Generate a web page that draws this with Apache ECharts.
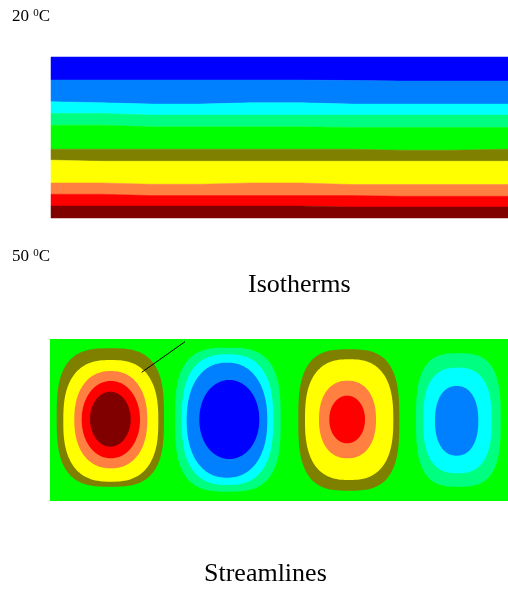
<!DOCTYPE html>
<html>
<head>
<meta charset="utf-8">
<script src="https://cdn.jsdelivr.net/npm/echarts@6/dist/echarts.min.js"></script>
<style>
  html, body { margin: 0; padding: 0; background: #fff; }
  #chart { width: 508px; height: 590px; }
</style>
</head>
<body>
<div id="chart"></div>
<script>
// Ten-step contour palette, from the lowest level to the highest
const palette = ['#0000ff', '#0080ff', '#00ffff', '#00ff80', '#00ff00',
                 '#808000', '#ffff00', '#ff8040', '#ff0000', '#800000'];

// Isotherms: positions across the layer and the depth of every band boundary there
const isoX = [0, 50, 100, 150, 200, 250, 300, 350, 400, 457];
const isoBoundaries = [
  [0, 0, 0, 0, 0, 0, 0, 0, 0, 0],
  [23, 23, 23, 23, 23, 23, 23.5, 24, 24, 24],
  [44.7, 45.7, 47, 47, 45.7, 45.7, 47, 47, 47, 47],
  [56.3, 56.3, 58, 58, 58, 58, 58, 58, 58, 58],
  [68, 68, 69.7, 69.7, 69.7, 69.7, 70.3, 70.3, 70.3, 70.3],
  [92, 92, 92, 92, 92, 92, 92, 93, 93, 92],
  [103, 104, 104, 104, 104, 104, 104, 104, 104, 104],
  [125.7, 125.7, 127, 127, 125.7, 125.7, 127.3, 127.3, 127.3, 127.3],
  [137, 137, 138.3, 138.3, 138.3, 138.3, 138.3, 139, 139, 139],
  [148.7, 148.7, 148.7, 148.7, 148.7, 148.7, 149.7, 149.7, 149.7, 149.7],
  [160.7, 160.7, 160.7, 160.7, 160.7, 160.7, 160.7, 160.7, 160.7, 160.7]
];
const isoDepth = 160.7;
const isoWidth = 457;

// Streamlines: contours of each convection cell, outermost first
// [palette level, x0, x1, y0, y1]
const cellA = [[5, 6.7, 114, 9.3, 147.7], [6, 13.3, 108.3, 21, 142.7], [7, 24.3, 97.3, 32, 129.3],
               [8, 31.7, 90, 42, 119.3], [9, 40, 80.7, 52.7, 107.7]];
const cellB = [[3, 125, 230.7, 8.7, 152.7], [2, 131.7, 223.3, 15.3, 146], [1, 136.7, 217.3, 23.7, 138.7],
               [0, 149.3, 209.3, 41, 120]];
const cellC = [[5, 248.3, 349.3, 10.3, 151.7], [6, 255, 343.3, 20.3, 141], [7, 269, 326, 41.7, 119.3],
               [8, 279.3, 315, 56.7, 104.3]];
const cellD = [[3, 366, 450.7, 14.3, 147.7], [2, 373.3, 441.7, 28.7, 134.3], [1, 385, 428.3, 47, 116.7]];
const streamWidth = 458;
const streamDepth = 162;
const zeroLevel = 4;

// pointer drawn onto the first cell
const pointerLine = [[135, 2.7], [91.7, 33.3]];

const titles = ['Isotherms', 'Streamlines'];
const tempTop = '20';
const tempBottom = '50';

// --- isotherm bands: polygon between two neighbouring boundaries ---
const bandData = [];
for (let i = 0; i < isoBoundaries.length - 1; i++) bandData.push([i]);

function renderBand(params, api) {
  const i = api.value(0);
  const upper = isoX.map((x, k) => api.coord([x, isoBoundaries[i][k]]));
  const lower = isoX.map((x, k) => api.coord([x, isoBoundaries[i + 1][k]])).reverse();
  return {
    type: 'polygon',
    shape: { points: upper.concat(lower) },
    style: { fill: palette[i], stroke: palette[i], lineWidth: 0.5 }
  };
}

// --- streamline rings, flattened with their depth inside the cell ---
const ringData = [];
[cellA, cellB, cellC, cellD].forEach(cell => {
  cell.forEach((r, depth) => ringData.push([r[1], r[2], r[3], r[4], r[0], depth]));
});
// squareness of each ring, outermost first
const ringPower = [3.0, 2.6, 2.25, 2.05, 2.0];

function renderRing(params, api) {
  const a = api.coord([api.value(0), api.value(2)]);
  const b = api.coord([api.value(1), api.value(3)]);
  const cx = (a[0] + b[0]) / 2, cy = (a[1] + b[1]) / 2;
  const rx = Math.abs(b[0] - a[0]) / 2, ry = Math.abs(b[1] - a[1]) / 2;
  const n = ringPower[api.value(5)];
  const pts = [];
  const N = 160;
  for (let k = 0; k < N; k++) {
    const t = k / N * Math.PI * 2;
    const c = Math.cos(t), s = Math.sin(t);
    pts.push([cx + rx * Math.sign(c) * Math.pow(Math.abs(c), 2 / n),
              cy + ry * Math.sign(s) * Math.pow(Math.abs(s), 2 / n)]);
  }
  return { type: 'polygon', shape: { points: pts }, style: { fill: palette[api.value(4)] } };
}

const serif = '"Liberation Serif", "Times New Roman", serif';

function tempLabel(value, x, y) {
  return {
    type: 'text', x: x, y: y,
    style: {
      text: '{n|' + value + ' }{s|0}{n|C}',
      rich: {
        n: { fontFamily: serif, fontSize: 17, fill: '#000', lineHeight: 18 },
        s: { fontFamily: serif, fontSize: 11, fill: '#000', lineHeight: 12, verticalAlign: 'top' }
      }
    }
  };
}

const chart = echarts.init(document.getElementById('chart'), null, { renderer: 'canvas' });
chart.setOption({
  animation: false,
  backgroundColor: '#fff',
  grid: [
    { left: 51, top: 57, width: 457, height: 161, containLabel: false },
    { left: 50, top: 339, width: 458, height: 162, containLabel: false,
      show: true, backgroundColor: palette[zeroLevel], borderWidth: 0 }
  ],
  xAxis: [
    { type: 'value', gridIndex: 0, min: 0, max: isoWidth, show: false },
    { type: 'value', gridIndex: 1, min: 0, max: streamWidth, show: false }
  ],
  yAxis: [
    { type: 'value', gridIndex: 0, min: 0, max: isoDepth, inverse: true, show: false },
    { type: 'value', gridIndex: 1, min: 0, max: streamDepth, inverse: true, show: false }
  ],
  series: [
    {
      type: 'custom',
      xAxisIndex: 0, yAxisIndex: 0,
      silent: true,
      renderItem: renderBand,
      encode: { x: [], y: [] },
      data: bandData
    },
    {
      type: 'custom',
      xAxisIndex: 1, yAxisIndex: 1,
      silent: true,
      renderItem: renderRing,
      encode: { x: [0, 1], y: [2, 3] },
      data: ringData,
      z: 2
    },
    {
      type: 'line',
      xAxisIndex: 1, yAxisIndex: 1,
      symbol: 'none',
      silent: true,
      lineStyle: { color: '#000', width: 1 },
      data: pointerLine,
      z: 3
    }
  ],
  graphic: [
    tempLabel(tempTop, 12, 8),
    tempLabel(tempBottom, 12, 248),
    { type: 'text', x: 248, y: 272, style: { text: titles[0], fontFamily: serif, fontSize: 26, fill: '#000' } },
    { type: 'text', x: 204, y: 561, style: { text: titles[1], fontFamily: serif, fontSize: 26, fill: '#000' } }
  ]
});
</script>
</body>
</html>
